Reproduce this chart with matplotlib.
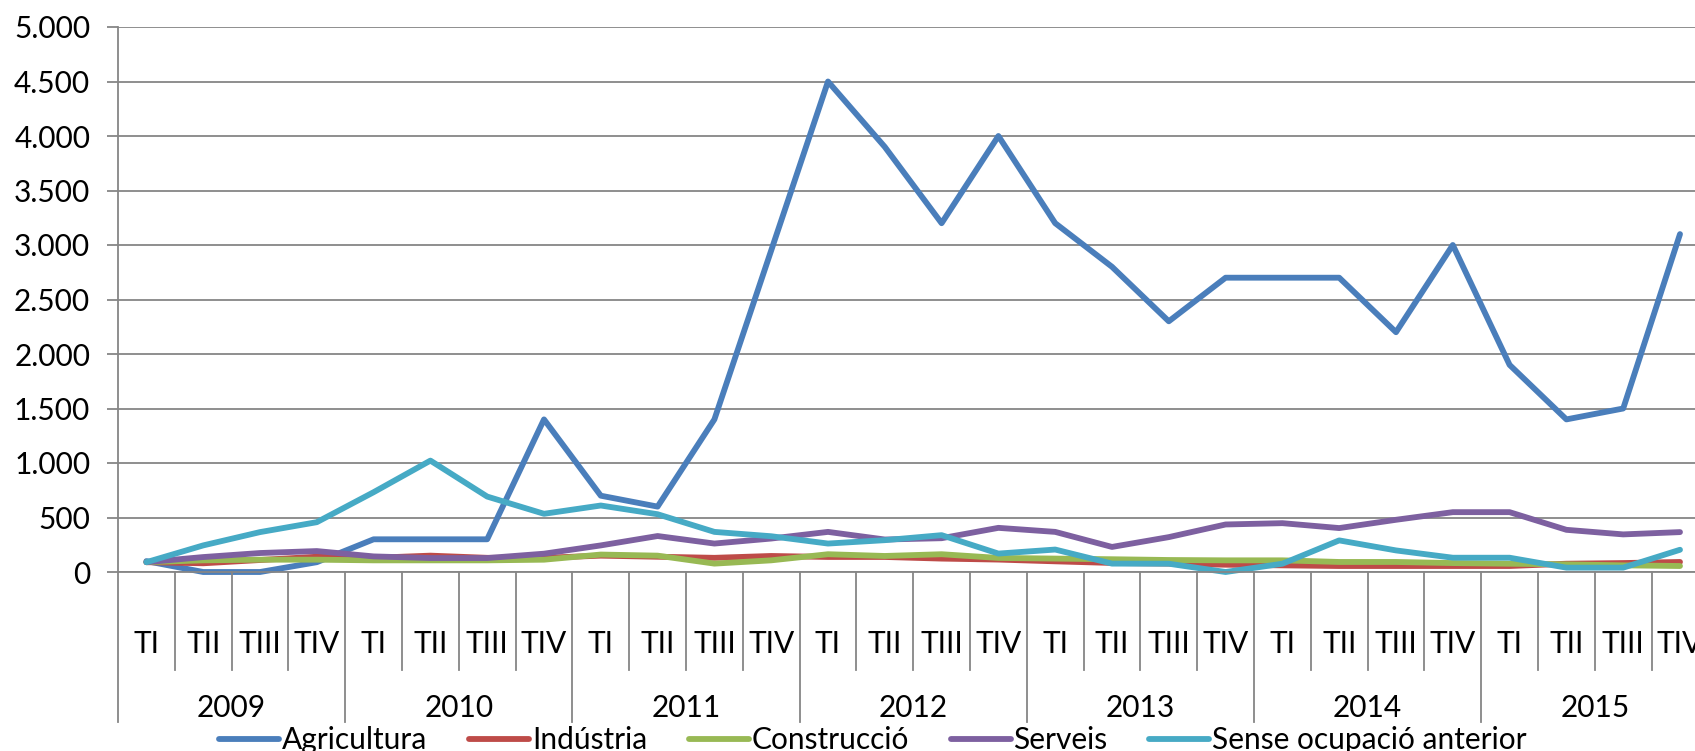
import matplotlib.pyplot as plt
import matplotlib.transforms as mtransforms
from matplotlib.ticker import FuncFormatter

plt.rcParams['font.family'] = ['Lato', 'DejaVu Sans']

years = ['2009', '2010', '2011', '2012', '2013', '2014', '2015']
quarters = ['TI', 'TII', 'TIII', 'TIV']

agricultura = [100, 0, 0, 90, 300, 300, 300, 1400,
               700, 600, 1400, 2950, 4500, 3900, 3200, 4000,
               3200, 2800, 2300, 2700, 2700, 2700, 2200, 3000,
               1900, 1400, 1500, 3100]
industria = [90, 80, 110, 140, 130, 150, 130, 130,
             150, 140, 130, 147, 138, 138, 123, 114,
             98, 83, 77, 67, 61, 55, 55, 55,
             55, 76, 82, 92]
construccio = [90, 107, 113, 113, 107, 107, 107, 113,
               160, 150, 77, 107, 163, 147, 163, 129,
               123, 117, 110, 107, 107, 92, 92, 82,
               76, 70, 61, 55]
serveis = [90, 137, 174, 192, 143, 128, 128, 168,
           244, 330, 261, 307, 368, 298, 310, 405,
           368, 230, 320, 436, 448, 403, 479, 549,
           549, 387, 345, 366]
sense = [90, 244, 366, 457, 732, 1022, 692, 534,
         610, 530, 368, 328, 261, 292, 338, 169,
         206, 77, 76, 0, 76, 290, 198, 131,
         131, 40, 40, 204]

series = [
    ('Agricultura', agricultura, '#4A7EBB'),
    ('Indústria', industria, '#BE4B48'),
    ('Construcció', construccio, '#98B954'),
    ('Serveis', serveis, '#7D60A0'),
    ('Sense ocupació anterior', sense, '#46AAC5'),
]

FS = 21.5
W, H = 1695, 751
fig = plt.figure(figsize=(W / 100, H / 100), dpi=100)
left, right = 118 / W, (118 + 28 * 56.8) / W
top, bottom = 1 - 27 / H, 1 - 572 / H
ax = fig.add_axes([left, bottom, right - left, top - bottom])

n = len(years) * len(quarters)
xs = [i + 0.5 for i in range(n)]
for name, vals, color in series:
    ax.plot(xs, vals, color=color, lw=4.2, label=name, solid_capstyle='round',
            solid_joinstyle='round', clip_on=False)

grid_c = '#868686'
ax.set_xlim(0, n)
ax.set_ylim(0, 5000)
ax.set_yticks(range(0, 5001, 500))
ax.yaxis.set_major_formatter(FuncFormatter(lambda v, p: f'{int(v):,}'.replace(',', '.')))
ax.grid(axis='y', color=grid_c, lw=1.3)
ax.set_axisbelow(True)
ax.set_xticks([])
for s in ['top', 'right']:
    ax.spines[s].set_visible(False)
for s in ['left', 'bottom']:
    ax.spines[s].set_color(grid_c)
    ax.spines[s].set_linewidth(1.3)
ax.tick_params(axis='y', colors=grid_c, length=8, width=1.3, labelsize=FS,
               labelcolor='black', pad=12)

# category separators and labels below the axis
tr = mtransforms.blended_transform_factory(ax.transData, fig.transFigure)
y0 = bottom
yq = 1 - 670 / H
yy = 1 - 722 / H
for k in range(n + 1):
    ybot = yy if k % 4 == 0 else yq
    ax.plot([k, k], [y0, ybot], color=grid_c, lw=1.3, transform=tr, clip_on=False)
for i in range(n):
    ax.text(i + 0.5, 1 - 644 / H, quarters[i % 4], transform=tr, ha='center',
            va='center', fontsize=FS)
for j, yr in enumerate(years):
    ax.text(4 * j + 2, 1 - 708 / H, yr, transform=tr, ha='center', va='center',
            fontsize=FS)

fig.legend(loc='center', bbox_to_anchor=(873 / W, 1 - 740 / H), ncol=5,
           frameon=False, fontsize=FS, handlelength=2.0, handletextpad=0.1,
           columnspacing=1.4)

fig.savefig('out.png', dpi=100)
